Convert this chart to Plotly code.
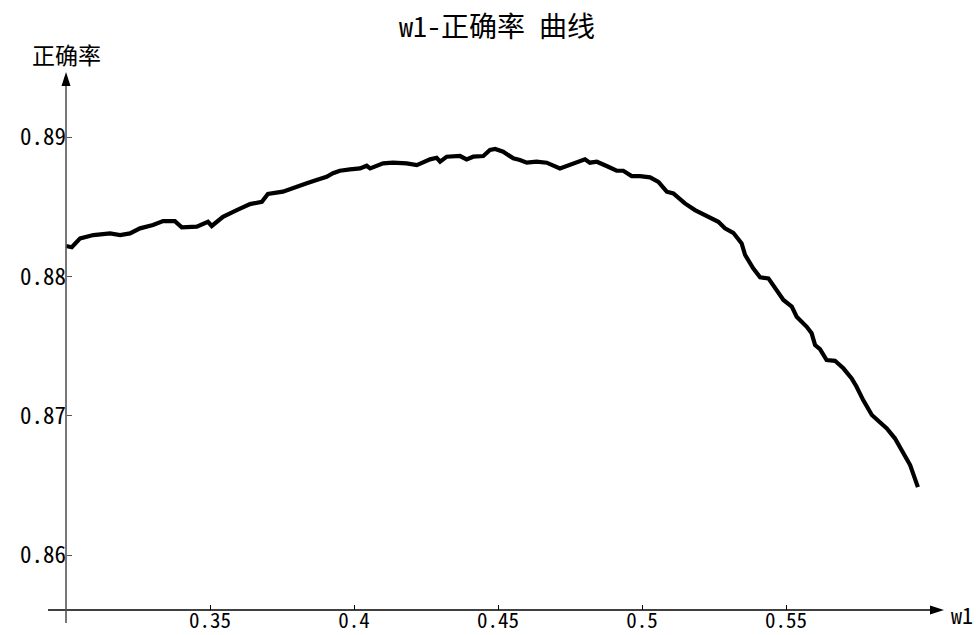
import plotly.graph_objects as go

# w1 weight vs. accuracy
w1 = [0.3000, 0.3020, 0.3049, 0.3095, 0.3153, 0.3188, 0.3222, 0.3257, 0.3302, 0.3337,
      0.3378, 0.3402, 0.3454, 0.3493, 0.3506, 0.3545, 0.3593, 0.3639, 0.3680, 0.3701,
      0.3753, 0.3801, 0.3836, 0.3870, 0.3905, 0.3927, 0.3951, 0.3986, 0.4021, 0.4044,
      0.4056, 0.4101, 0.4135, 0.4183, 0.4218, 0.4264, 0.4287, 0.4299, 0.4322, 0.4368,
      0.4391, 0.4414, 0.4449, 0.4472, 0.4490, 0.4518, 0.4553, 0.4576, 0.4600, 0.4634,
      0.4669, 0.4715, 0.4750, 0.4785, 0.4802, 0.4819, 0.4843, 0.4877, 0.4912, 0.4935,
      0.4964, 0.4993, 0.5028, 0.5057, 0.5086, 0.5109, 0.5149, 0.5184, 0.5219, 0.5265,
      0.5288, 0.5317, 0.5346, 0.5358, 0.5386, 0.5410, 0.5439, 0.5468, 0.5491, 0.5520,
      0.5537, 0.5572, 0.5589, 0.5601, 0.5618, 0.5641, 0.5670, 0.5699, 0.5728, 0.5745,
      0.5768, 0.5798, 0.5826, 0.5850, 0.5878, 0.5896, 0.5913, 0.5931, 0.5958]
accuracy = [0.88218, 0.88209, 0.88273, 0.88297, 0.88309, 0.88297, 0.88309, 0.88345, 0.88369, 0.88397,
            0.88397, 0.88352, 0.88357, 0.88392, 0.88362, 0.88428, 0.88476, 0.88519, 0.88536, 0.88591,
            0.88608, 0.88639, 0.88668, 0.88692, 0.88715, 0.88740, 0.88758, 0.88768, 0.88775, 0.88794,
            0.88775, 0.88811, 0.88816, 0.88811, 0.88799, 0.88840, 0.88851, 0.88823, 0.88859, 0.88864,
            0.88840, 0.88859, 0.88864, 0.88907, 0.88914, 0.88895, 0.88847, 0.88835, 0.88816, 0.88823,
            0.88816, 0.88775, 0.88799, 0.88828, 0.88840, 0.88816, 0.88823, 0.88792, 0.88758, 0.88758,
            0.88720, 0.88720, 0.88711, 0.88679, 0.88608, 0.88596, 0.88524, 0.88476, 0.88440, 0.88392,
            0.88345, 0.88313, 0.88237, 0.88154, 0.88058, 0.87994, 0.87986, 0.87902, 0.87831, 0.87783,
            0.87711, 0.87639, 0.87592, 0.87508, 0.87479, 0.87400, 0.87395, 0.87341, 0.87269, 0.87209,
            0.87113, 0.87006, 0.86958, 0.86910, 0.86839, 0.86778, 0.86719, 0.86647, 0.86489]

x_ticks = [0.35, 0.40, 0.45, 0.50, 0.55]
x_tick_text = ["0.35", "0.4", "0.45", "0.5", "0.55"]
y_ticks = [0.86, 0.87, 0.88, 0.89]
y_tick_text = ["0.86", "0.87", "0.88", "0.89"]

W, H = 976, 635
# visible data window (full figure, no margins)
x_range = [0.27708, 0.61597]
y_range = [0.85428, 0.89983]
x_origin, y_origin = 0.30, 0.85607      # where the two axes cross
x_axis_start, x_axis_end = 0.29375, 0.60486
y_axis_start, y_axis_end = 0.85514, 0.89466

FONT = "Noto Sans Mono CJK SC, Noto Sans CJK SC, sans-serif"

fig = go.Figure()
fig.add_trace(go.Scatter(x=w1, y=accuracy, mode="lines",
                         line=dict(color="black", width=4.2),
                         hoverinfo="skip", showlegend=False))

# axis lines
fig.add_shape(type="line", xref="x", yref="y",
              x0=x_axis_start, x1=x_axis_end - 0.003, y0=y_origin, y1=y_origin,
              line=dict(color="black", width=1.5))
fig.add_shape(type="line", xref="x", yref="y",
              x0=x_origin, x1=x_origin, y0=y_axis_start, y1=y_axis_end - 0.0008,
              line=dict(color="#555555", width=1.6))
# arrow heads (pixel-sized triangles anchored at the axis tips)
fig.add_shape(type="path", xref="x", yref="y", xsizemode="pixel", ysizemode="pixel",
              xanchor=x_axis_end, yanchor=y_origin,
              path="M0,0 L-14,4.5 L-14,-4.5 Z", fillcolor="black", line=dict(width=0))
fig.add_shape(type="path", xref="x", yref="y", xsizemode="pixel", ysizemode="pixel",
              xanchor=x_origin, yanchor=y_axis_end,
              path="M0,0 L-4.5,-14 L4.5,-14 Z", fillcolor="black", line=dict(width=0))

fig.add_annotation(text="正确率", xref="x", x=x_origin, yref="paper", y=1 - 54 / H,
                   showarrow=False, xanchor="center", yanchor="middle",
                   font=dict(family=FONT, size=23, color="black"))
fig.add_annotation(text="w1", xref="paper", x=949 / W, yref="paper", y=(H - 614) / H,
                   showarrow=False, xanchor="left", yanchor="middle",
                   font=dict(family=FONT, size=22, color="black"))

fig.update_layout(
    width=W, height=H,
    margin=dict(l=0, r=0, t=0, b=0, pad=0),
    paper_bgcolor="white", plot_bgcolor="white",
    title=dict(text="w1-正确率 曲线", x=497 / W, xanchor="center",
               y=1 - 27 / H, yanchor="middle",
               font=dict(family=FONT, size=28, color="black")),
    xaxis=dict(range=x_range, showgrid=False, zeroline=False, showline=False,
               anchor="free", position=(H - 610) / H,
               tickmode="array", tickvals=x_ticks, ticktext=x_tick_text,
               ticks="inside", ticklen=5, tickwidth=1.2, tickcolor="black",
               ticklabelstandoff=-4,
               tickfont=dict(family=FONT, size=21, color="black"), automargin=False),
    yaxis=dict(range=y_range, showgrid=False, zeroline=False, showline=False,
               anchor="free", position=66 / W,
               tickmode="array", tickvals=y_ticks, ticktext=y_tick_text,
               ticks="inside", ticklen=5, tickwidth=1.2, tickcolor="#555555",
               tickfont=dict(family=FONT, size=23, color="black"), automargin=False),
)

fig.write_html("out.html")
